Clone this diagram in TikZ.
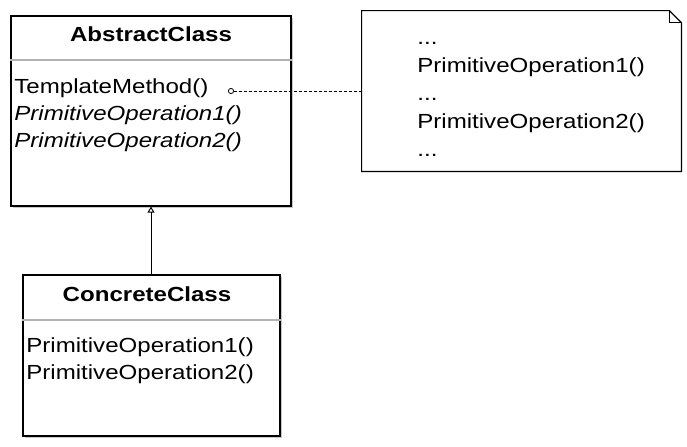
\documentclass[tikz,border=0pt]{standalone}
\usepackage{fontspec}
\setmainfont{Liberation Sans}[FakeStretch=1.18]
\usepackage{tikz}
\usetikzlibrary{arrows.meta, shadows}

\begin{document}
\begin{tikzpicture}[x=0.5pt, y=-0.5pt,   % Pixelraster, y nach unten
	font=\fontsize{10.2}{12}\selectfont,
	classbox/.style={draw, line width=0.6pt, fill=white, inner sep=0pt,
		drop shadow={shadow xshift=1.2pt, shadow yshift=-1.2pt, fill=black!22, opacity=1}},
	member/.style={anchor=base west, inner sep=0pt},
	ctitle/.style={anchor=base, inner sep=0pt, font=\fontsize{10.2}{12}\selectfont\bfseries},
	sep/.style={draw=black!30, line width=0.6pt},
	inherit/.style={line width=0.5pt, -{Triangle[open, length=3pt, width=3.5pt]}},
	notelink/.style={line width=0.4pt, dash pattern=on 1.5pt off 1pt, {Circle[open, length=3pt]}-}]
	\useasboundingbox (0,0) rectangle (687,446);

	% AbstractClass
	\node[classbox, minimum width=140pt, minimum height=95pt] (abstract) at (151,111) {};
	\draw[sep] (abstract.west |- 0,60) -- (abstract.east |- 0,60);
	\node[ctitle] (abstitle) at (151,41.5) {AbstractClass};
	\node[member] (tmethod) at (14,93) {TemplateMethod()};
	\node[member, font=\fontsize{10.2}{12}\selectfont\itshape] (absop1) at (14,120) {PrimitiveOperation1()};
	\node[member, font=\fontsize{10.2}{12}\selectfont\itshape] (absop2) at (14,147) {PrimitiveOperation2()};

	% ConcreteClass
	\node[classbox, minimum width=128.5pt, minimum height=80.5pt] (concrete) at (151.5,355.5) {};
	\draw[sep] (concrete.west |- 0,320) -- (concrete.east |- 0,320);
	\node[ctitle] (contitle) at (147,301.5) {ConcreteClass};
	\node[member] (conop1) at (26,352) {PrimitiveOperation1()};
	\node[member] (conop2) at (26,379) {PrimitiveOperation2()};

	% Notiz
	\node[minimum width=159.5pt, minimum height=80pt, inner sep=0pt] (note) at (521.5,91) {};
	\draw[line width=0.6pt] (note.north west) -- ([xshift=-6pt]note.north east)
		-- ([yshift=-6pt]note.north east) -- (note.south east) -- (note.south west) -- cycle;
	\draw[line width=0.5pt] ([xshift=-6pt]note.north east) |- ([yshift=-6pt]note.north east);
	\node[member] (dots1) at (417,44) {...};
	\node[member] (call1) at (417,72) {PrimitiveOperation1()};
	\node[member] (dots2) at (417,100) {...};
	\node[member] (call2) at (417,128) {PrimitiveOperation2()};
	\node[member] (dots3) at (417,156) {...};

	\coordinate (tmlink) at (228,91);
	\draw[notelink] (tmlink) -- (note.west);
	\draw[inherit] (concrete.north -| abstract.south) -- (abstract.south);
\end{tikzpicture}
\end{document}
